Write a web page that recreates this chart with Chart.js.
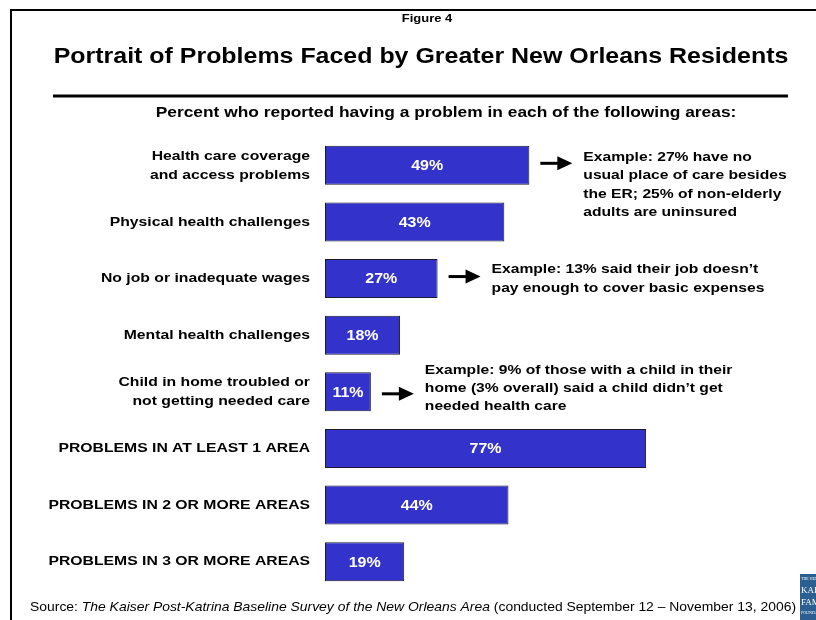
<!DOCTYPE html>
<html lang="en">

<head>
    <meta charset="UTF-8">
    <title>Portrait of Problems Faced by Greater New Orleans Residents</title>
    <script src="https://cdn.jsdelivr.net/npm/chart.js"></script>
    <style>
        html, body { margin: 0; padding: 0; background: #fff; }
        #wrap { width: 816px; height: 620px; position: relative; }
    </style>
</head>

<body>
    <div id="wrap"><canvas id="problemsChart" width="816" height="620"></canvas></div>

    <script>
        // chart data
        const categories = [
            ["Health care coverage", "and access problems"],
            ["Physical health challenges"],
            ["No job or inadequate wages"],
            ["Mental health challenges"],
            ["Child in home troubled or", "not getting needed care"],
            ["PROBLEMS IN AT LEAST 1 AREA"],
            ["PROBLEMS IN 2 OR MORE AREAS"],
            ["PROBLEMS IN 3 OR MORE AREAS"]
        ];
        const percents = [49, 43, 27, 18, 11, 77, 44, 19];

        // example call-outs (row index -> text lines)
        const noteRows = [0, 2, 4];
        const noteTexts = [
            ["Example: 27% have no", "usual place of care besides", "the ER; 25% of non-elderly", "adults are uninsured"],
            ["Example: 13% said their job doesn\u2019t", "pay enough to cover basic expenses"],
            ["Example: 9% of those with a child in their", "home (3% overall) said a child didn\u2019t get", "needed health care"]
        ];

        const FONT = '"Liberation Sans", Arial, Helvetica, sans-serif';
        const STRETCH = 1.15; // the slide text is a bit wider than plain Arial
        const noteShift = [-8, -9, -22]; // first line offset from bar centre

        function wideText(ctx, t, x, y) {
            ctx.save();
            ctx.translate(x, y);
            ctx.scale(STRETCH, 1);
            ctx.fillText(t, 0, 0);
            ctx.restore();
        }

        // draws everything around the bars: titles, labels, arrows, source
        const slideDecor = {
            id: "slideDecor",
            beforeDraw(chart) {
                let ctx = chart.ctx;
                ctx.save();
                ctx.fillStyle = "#fff";
                ctx.fillRect(0, 0, chart.width, chart.height);
                ctx.restore();
            },
            afterDatasetsDraw(chart) {
                let ctx = chart.ctx;
                let x = chart.scales.x;
                let y = chart.scales.y;
                ctx.save();

                // slide frame
                ctx.strokeStyle = "#000";
                ctx.lineWidth = 2;
                ctx.beginPath();
                ctx.moveTo(11, 620);
                ctx.lineTo(11, 10);
                ctx.lineTo(816, 10);
                ctx.stroke();

                // headings
                ctx.fillStyle = "#000";
                ctx.textAlign = "center";
                ctx.textBaseline = "middle";
                ctx.font = "bold 11.3px " + FONT;
                wideText(ctx, "Figure 4", 427, 19);
                ctx.font = "bold 21.7px " + FONT;
                wideText(ctx, "Portrait of Problems Faced by Greater New Orleans Residents", 421, 57);

                ctx.lineWidth = 3;
                ctx.beginPath();
                ctx.moveTo(53, 96);
                ctx.lineTo(788, 96);
                ctx.stroke();

                ctx.font = "bold 15.1px " + FONT;
                wideText(ctx, "Percent who reported having a problem in each of the following areas:", 446, 113);

                // category labels
                ctx.textAlign = "right";
                ctx.font = "bold 13.7px " + FONT;
                categories.forEach((lines, i) => {
                    let cy = y.getPixelForValue(i);
                    let top = cy - (lines.length - 1) * 9.5;
                    lines.forEach((t, k) => wideText(ctx, t, 310, top + k * 19));
                });

                // value labels inside bars
                ctx.textAlign = "center";
                ctx.fillStyle = "#fff";
                ctx.font = "bold 13.9px " + FONT;
                percents.forEach((v, i) => {
                    let cx = (x.getPixelForValue(0) + x.getPixelForValue(v)) / 2;
                    wideText(ctx, v + "%", cx, y.getPixelForValue(i) + 1);
                });

                // arrows + example text
                ctx.fillStyle = "#000";
                ctx.textAlign = "left";
                noteRows.forEach((row, n) => {
                    let end = x.getPixelForValue(percents[row]);
                    let cy = y.getPixelForValue(row) - 2;
                    if (n == 2) cy += 4;
                    ctx.lineWidth = 3;
                    ctx.beginPath();
                    ctx.moveTo(end + 11, cy);
                    ctx.lineTo(end + 30, cy);
                    ctx.stroke();
                    ctx.beginPath();
                    ctx.moveTo(end + 28, cy - 7);
                    ctx.lineTo(end + 43, cy);
                    ctx.lineTo(end + 28, cy + 7);
                    ctx.closePath();
                    ctx.fill();

                    ctx.font = "bold 13.6px " + FONT;
                    let ty = y.getPixelForValue(row) + noteShift[n];
                    noteTexts[n].forEach((t, k) => wideText(ctx, t, end + 54, ty + k * 18.3));
                });

                // source line
                let sx = 30;
                let parts = [
                    ["Source: ", "12.1px "],
                    ["The Kaiser Post-Katrina Baseline Survey of the New Orleans Area", "italic 12.1px "],
                    [" (conducted September 12 \u2013 November 13, 2006)", "12.1px "]
                ];
                parts.forEach(p => {
                    ctx.font = p[1] + FONT;
                    wideText(ctx, p[0], sx, 608);
                    sx += ctx.measureText(p[0]).width * STRETCH;
                });

                // foundation logo (cut off at the edge)
                ctx.fillStyle = "#2b5f92";
                ctx.fillRect(800, 574, 16, 46);
                ctx.fillStyle = "#fff";
                ctx.font = "4px serif";
                ctx.fillText("THE HENRY", 801, 579);
                ctx.font = "9px 'Liberation Serif', serif";
                ctx.fillText("KAISER", 801, 591);
                ctx.fillText("FAMILY", 801, 603);
                ctx.font = "4px serif";
                ctx.fillText("FOUNDATION", 801, 613);

                ctx.restore();
            }
        };

        let chartInstance = new Chart(document.getElementById("problemsChart"), {
            type: "bar",
            data: {
                labels: categories,
                datasets: [{
                    data: percents,
                    backgroundColor: "#3333cc",
                    borderColor: "#1a1a2e",
                    borderWidth: 1,
                    borderSkipped: false,
                    barPercentage: 0.69,
                    categoryPercentage: 1
                }]
            },
            options: {
                indexAxis: "y",
                responsive: false,
                animation: false,
                layout: { padding: { left: 325, right: 74, top: 137, bottom: 30 } },
                plugins: { legend: { display: false }, tooltip: { enabled: false } },
                scales: {
                    x: { display: false, min: 0, max: 100 },
                    y: { display: false }
                }
            },
            plugins: [slideDecor]
        });
    </script>
</body>

</html>
